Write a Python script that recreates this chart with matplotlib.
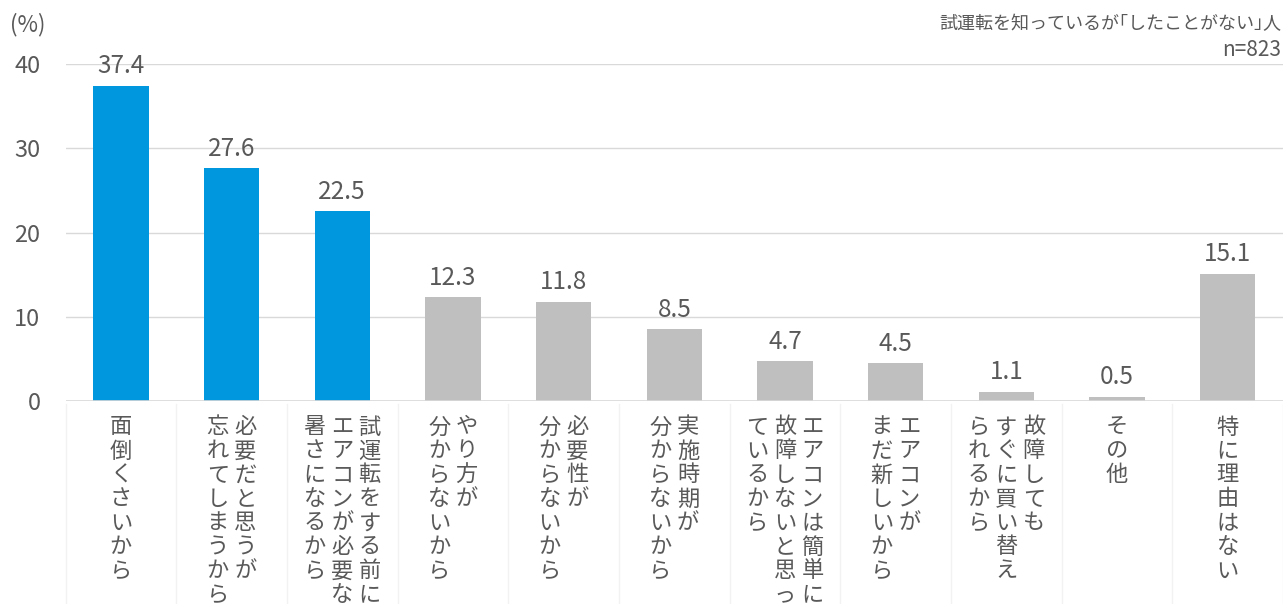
import matplotlib
matplotlib.use('Agg')
import matplotlib.pyplot as plt

plt.rcParams['font.family'] = ['Noto Sans CJK JP', 'DejaVu Sans']

# 列ごとのラベル（右の列から順）
labels = [
    ['面倒くさいから'],
    ['必要だと思うが', '忘れてしまうから'],
    ['試運転をする前に', 'エアコンが必要な', '暑さになるから'],
    ['やり方が', '分からないから'],
    ['必要性が', '分からないから'],
    ['実施時期が', '分からないから'],
    ['エアコンは簡単に', '故障しないと思っ', 'ているから'],
    ['エアコンが', 'まだ新しいから'],
    ['故障しても', 'すぐに買い替え', 'られるから'],
    ['その他'],
    ['特に理由はない'],
]
values = [37.4, 27.6, 22.5, 12.3, 11.8, 8.5, 4.7, 4.5, 1.1, 0.5, 15.1]
highlight = 3  # 上位3項目は青

blue = '#0097DE'
gray = '#BFBFBF'
txt = '#595959'

fig = plt.figure(figsize=(12.83, 6.04), dpi=100)
ax = fig.add_axes([65.5 / 1283, (604 - 401) / 604, (1283 - 65.5) / 1283, 337 / 604])

x = list(range(len(values)))
colors = [blue if i < highlight else gray for i in x]
ax.bar(x, values, width=0.5, color=colors, zorder=3)

ax.set_xlim(-0.5, len(values) - 0.5)
ax.set_ylim(0, 40)
ax.set_yticks([0, 10, 20, 30, 40])
ax.tick_params(axis='y', length=0, pad=18, labelsize=17, labelcolor=txt)
ax.set_xticks([])
ax.grid(axis='y', color='#D9D9D9', linewidth=1, zorder=0)
for s in ax.spines.values():
    s.set_visible(False)
ax.axhline(0, color='#D9D9D9', linewidth=1.2, zorder=4)

# 値ラベル
for i, v in enumerate(values):
    ax.annotate(f'{v:.1f}', xy=(i, v), xytext=(0, 14), textcoords='offset points',
                ha='center', va='center', fontsize=17.5, color=txt)

# 縦書きのカテゴリラベル
col_pitch = 27.5 * 0.72
char_pitch = 24 * 0.72
for i, cols in enumerate(labels):
    n = len(cols)
    for c, col in enumerate(cols):
        dx = ((n - 1) / 2 - c) * col_pitch
        for k, ch in enumerate(col):
            dy = -18.7 - k * char_pitch
            ax.annotate(ch, xy=(i, 0), xycoords='data', xytext=(dx, dy),
                        textcoords='offset points', ha='center', va='center',
                        fontsize=16, color=txt, annotation_clip=False)

# 区切り線
for i in range(len(values) + 1):
    ax.plot([i - 0.5, i - 0.5], [-0.3, -30], color='#F2F2F2', linewidth=1,
            clip_on=False, zorder=1)

fig.text(10 / 1283, 1 - 25 / 604, '(%)', fontsize=16, color=txt, va='center', ha='left')
fig.text(1281 / 1283, 1 - 24 / 604, '試運転を知っているが｢したことがない｣人',
         fontsize=13, color=txt, va='center', ha='right')
fig.text(1281 / 1283, 1 - 50 / 604, 'n=823', fontsize=15, color=txt, va='center', ha='right')

fig.savefig('out.png', dpi=100, facecolor='white')
